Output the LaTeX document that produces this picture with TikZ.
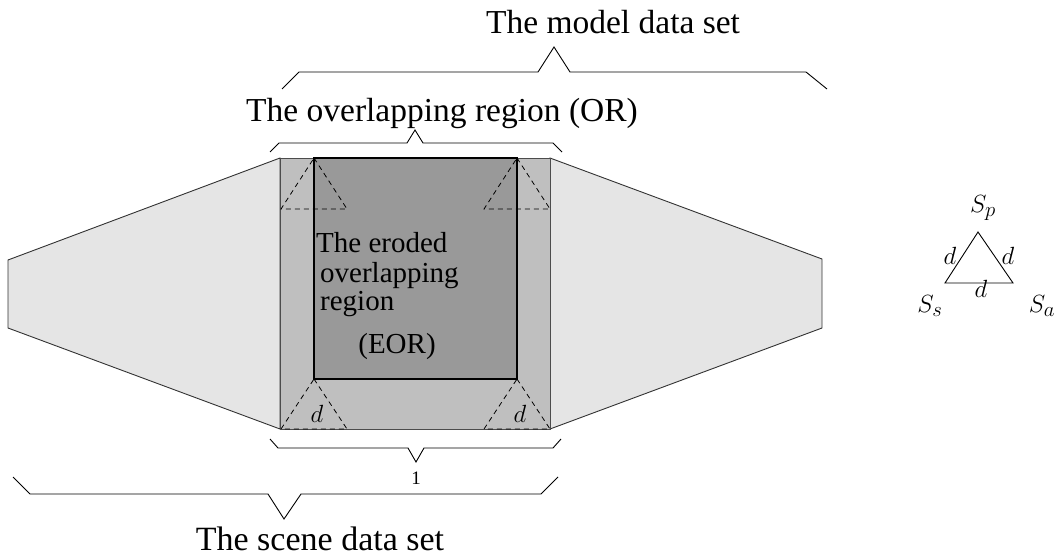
\documentclass[tikz,border=0pt]{standalone}
\usepackage{fontspec}
\setmainfont{Liberation Serif}
\definecolor{scenegray}{gray}{0.9}
\definecolor{orgray}{gray}{0.75}
\definecolor{eorgray}{gray}{0.6}
\tikzset{
  title/.style={inner sep=0pt, anchor=base, font=\fontsize{33.5}{36}\selectfont},
  eortext/.style={inner sep=0pt, anchor=base west, font=\fontsize{29}{30}\selectfont},
  mathlabel/.style={inner sep=0pt, font=\fontsize{29}{30}\selectfont},
  brace/.style={draw=black, line width=0.9pt, line join=miter},
  sidearea/.style={fill=scenegray, draw=black!80, line width=0.9pt},
  erodetri/.style={draw=black, line width=0.8pt, dash pattern=on 5pt off 4pt},
}
\begin{document}
\begin{tikzpicture}[x=1pt,y=-1pt]
\useasboundingbox (0,0) rectangle (1056,557);
% side areas
\path[sidearea] (8,260) -- (280,158) -- (280,429) -- (8,328) -- cycle;
\path[sidearea] (550,158) -- (822,259) -- (822,328) -- (550,429) -- cycle;
% overlapping region
\path[fill=orgray, draw=black!70, line width=0.9pt] (280,158) rectangle (550,429);
% eroded overlapping region
\path[fill=eorgray, draw=black, line width=1.6pt] (314,158) rectangle (517,379);
% dashed triangles
\draw[erodetri] (314,158) -- (347,209) -- (281,209) -- cycle;
\draw[erodetri] (517,158) -- (550,209) -- (484,209) -- cycle;
\draw[erodetri] (314,379) -- (347,429) -- (281,429) -- cycle;
\draw[erodetri] (517,379) -- (550,429) -- (484,429) -- cycle;
\node[mathlabel] (dl) at (317,414) {$d$};
\node[mathlabel] (dr) at (520,414) {$d$};
% EOR text
\node[eortext] (e1) at (316,252) {The eroded};
\node[eortext] (e2) at (320,282) {overlapping};
\node[eortext] (e3) at (320,310) {region};
\node[eortext, anchor=base] (e4) at (397,353) {(EOR)};
% braces
\draw[brace] (282,89) -- (299,72) -- (538,72) -- (554,47) -- (570,72) -- (806,72) -- (827,89);
\draw[brace] (270,152) -- (279,143) -- (407,143) -- (415,130) -- (423,143) -- (553,143) -- (562,152);
\draw[brace] (270,439) -- (278,448) -- (408,448) -- (416,462) -- (424,448) -- (553,448) -- (561,439);
\draw[brace] (13,477) -- (30,494) -- (268,494) -- (284,519) -- (301,494) -- (541,494) -- (558,477);
% titles
\node[title] (model) at (613,33) {The model data set};
\node[title] (or) at (442,121) {The overlapping region (OR)};
\node[title, font=\fontsize{34}{36}\selectfont] (scene) at (320,550) {The scene data set};
\node[inner sep=0pt, font=\fontsize{19}{20}\selectfont] (one) at (416,478) {1};
% legend triangle
\coordinate (tp) at (978,232);
\coordinate (tl) at (945,283);
\coordinate (tr) at (1013,283);
\draw[line width=0.9pt] (tp) -- (tl) -- (tr) -- cycle;
\node[mathlabel] (sp) at (983,208) {$S_p$};
\node[mathlabel] (ss) at (930,306) {$S_s$};
\node[mathlabel] (sa) at (1042,306) {$S_a$};
\node[mathlabel] (da) at (950,256) {$d$};
\node[mathlabel] (db) at (1008,256) {$d$};
\node[mathlabel] (dc) at (981,289) {$d$};
\end{tikzpicture}
\end{document}
